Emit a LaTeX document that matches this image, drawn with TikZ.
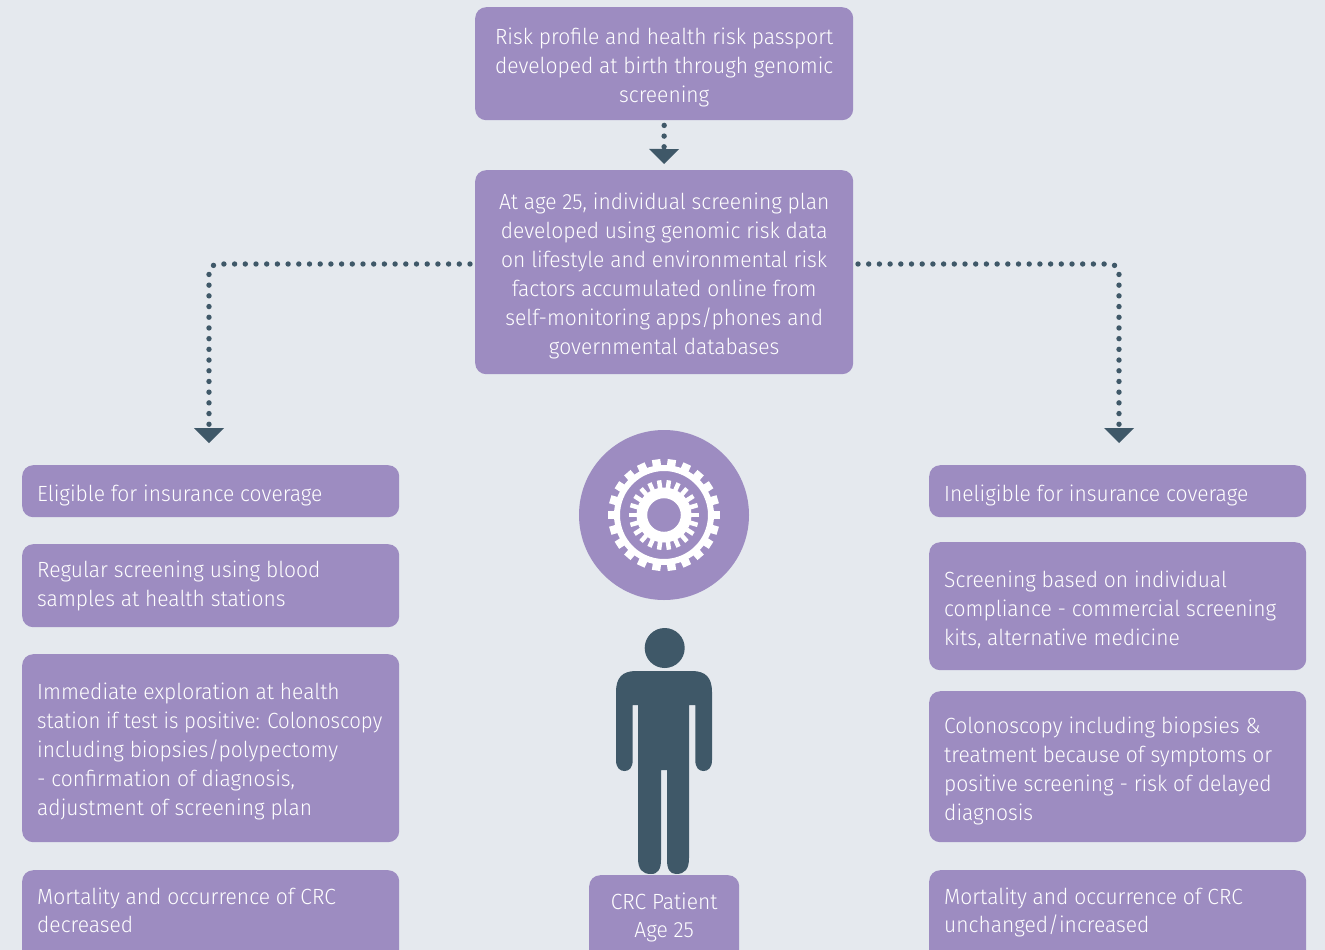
\documentclass[tikz,border=0pt]{standalone}
\usepackage{fontspec}
\setmainfont{Fira Sans}[UprightFont=* Light,FakeStretch=0.955]
\usetikzlibrary{arrows.meta,calc}
\definecolor{bgc}{HTML}{E5E9EE}
\definecolor{purp}{HTML}{9D8CC1}
\definecolor{slate}{HTML}{3F5868}
\newcommand\toppad[1]{\rule{0pt}{\dimexpr16.5pt+#1pt*2\relax}}
\tikzset{
 x=1pt,y=-1pt,
 boxbase/.style={fill=purp,rounded corners=11pt,text=white,inner xsep=0pt,inner ysep=0pt,font=\fontsize{22}{29}\selectfont},
 sidebox/.style={boxbase,anchor=north west,minimum width=377pt,text width=347pt,align=flush left},
 midbox/.style={boxbase,anchor=north west,minimum width=378pt,text width=360pt,align=flush center},
 dotline/.style={draw=slate,line width=5.4pt,line cap=round,dash pattern=on 0pt off 10.7pt,rounded corners=9pt,shorten <=5pt},
 tipped/.style={dotline,-{Triangle[width=30pt,length=15pt,line width=0pt,fill=slate]}},
}
\begin{document}
\begin{tikzpicture}
\useasboundingbox (0,0) rectangle (1325,950);
\clip (0,0) rectangle (1325,950);
\fill[bgc] (0,0) rectangle (1325,950);

\node[midbox,minimum height=113pt] (top) at (475,7) {\toppad{4}Risk profile and health risk passport\\developed at birth through genomic\\screening};
\node[midbox,minimum height=204pt] (mid) at (475,170) {\toppad{4}At age 25, individual screening plan\\developed using genomic risk data\\on lifestyle and environmental risk\\factors accumulated online from\\self-monitoring apps/phones and\\governmental databases};

\node[sidebox,minimum height=52pt] (l1) at (22,465) {\toppad{4}Eligible for insurance coverage};
\node[sidebox,minimum height=83pt] (l2) at (22,544) {Regular screening using blood\\samples at health stations};
\node[sidebox,minimum height=188pt] (l3) at (22,654) {\toppad{3}Immediate exploration at health\\\scalebox{0.97}[1]{station if test is positive: Colonoscopy}\\including biopsies/polypectomy\\- confirmation of diagnosis,\\adjustment of screening plan};
\node[sidebox,minimum height=100pt,text depth=47pt] (l4) at (22,870) {Mortality and occurrence of CRC\\[-1pt]decreased};

\node[sidebox,minimum height=52pt] (r1) at (929,465) {\toppad{4}Ineligible for insurance coverage};
\node[sidebox,minimum height=128pt] (r2) at (929,542) {\toppad{4}Screening based on individual\\compliance - commercial screening\\kits, alternative medicine};
\node[sidebox,minimum height=151pt] (r3) at (929,691) {\toppad{4}Colonoscopy including biopsies \&\\treatment because of symptoms or\\positive screening - risk of delayed\\diagnosis};
\node[sidebox,minimum height=100pt,text depth=47pt] (r4) at (929,870) {Mortality and occurrence of CRC\\[-1pt]unchanged/increased};

\node[boxbase,anchor=north west,minimum width=150pt,minimum height=95pt,text width=150pt,align=flush center,text depth=43pt] (pat) at (589,875) {CRC Patient\\[-1pt]Age 25};

% connectors
\coordinate (tipT) at (664,164);
\coordinate (tipL) at (209,443);
\coordinate (tipR) at (1119,443);
\coordinate (outL) at (475,264);
\coordinate (outR) at (853,264);
\draw[tipped] (top.south) -- (tipT);
\draw[tipped] (outL) -- (tipL |- outL) -- (tipL);
\draw[tipped] (outR) -- (tipR |- outR) -- (tipR);

% gear emblem
\node[circle,fill=purp,minimum size=170pt,inner sep=0pt] (emblem) at (664,515) {};
\begin{scope}[shift={(664,515)}]
 \fill[white,even odd rule] (0,0) circle[radius=50pt] (0,0) circle[radius=44pt];
 \fill[white,even odd rule] (0,0) circle[radius=27.5pt] (0,0) circle[radius=16.8pt];
 \foreach \i in {0,...,21}{
  \pgfmathsetmacro{\a}{(\i+0.5)*360/22}
  \fill[white,rotate=\a] (-4.2,-56) rectangle (4.2,-49);
  \fill[white,rotate=\a] (-2.25,-35) rectangle (2.25,-27);
 }
\end{scope}

% person
\fill[slate] (664.7,648) circle[radius=20pt];
\fill[slate] (636,671) -- (692,671)
 .. controls (706,671) and (712,678) .. (712,692)
 -- (712,760) .. controls (712,768) and (708,771) .. (703.5,771)
 .. controls (699,771) and (695.3,768) .. (695.3,760)
 -- (695.3,705) -- (689,705) -- (689,858)
 .. controls (689,869) and (685,874) .. (676,874)
 .. controls (670,874) and (667,869) .. (667,860)
 -- (667,770) -- (661,770) -- (661,860)
 .. controls (661,869) and (658,874) .. (651,874)
 .. controls (642,874) and (638,869) .. (638,858)
 -- (638,705) -- (632.7,705) -- (632.7,760)
 .. controls (632.7,768) and (629,771) .. (624.5,771)
 .. controls (620,771) and (616,768) .. (616,760)
 -- (616,692) .. controls (616,678) and (622,671) .. (636,671) -- cycle;
\end{tikzpicture}
\end{document}
